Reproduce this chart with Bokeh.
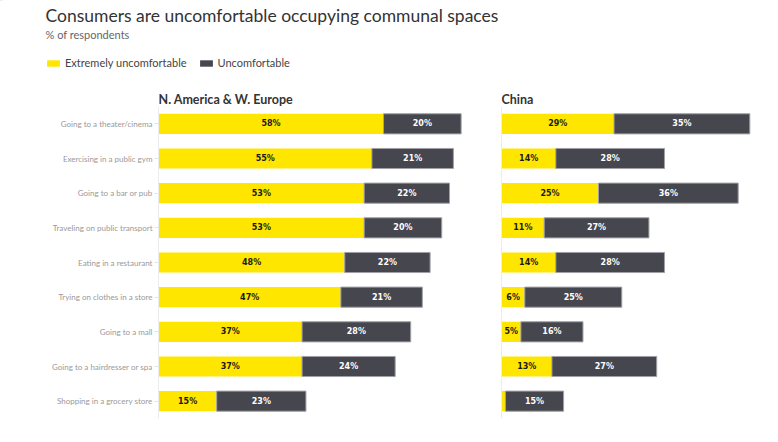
from bokeh.plotting import figure
from bokeh.layouts import column
from bokeh.models import (FactorRange, Range1d, ColumnDataSource, Label, Legend,
                          LegendItem, Span)
from bokeh.core.properties import value
from bokeh.embed import file_html
from bokeh.resources import INLINE

title = "Consumers are uncomfortable occupying communal spaces"
subtitle = "% of respondents"
series_names = ["Extremely uncomfortable", "Uncomfortable"]
panel_names = ["N. America & W. Europe", "China"]
categories = [
    "Going to a theater/cinema",
    "Exercising in a public gym",
    "Going to a bar or pub",
    "Traveling on public transport",
    "Eating in a restaurant",
    "Trying on clothes in a store",
    "Going to a mall",
    "Going to a hairdresser or spa",
    "Shopping in a grocery store",
]
na_extreme = [58, 55, 53, 53, 48, 47, 37, 37, 15]
na_uncomf = [20, 21, 22, 20, 22, 21, 28, 24, 23]
cn_extreme = [29, 14, 25, 11, 14, 6, 5, 13, 1]
cn_uncomf = [35, 28, 36, 27, 28, 25, 16, 27, 15]

YELLOW = "#FFE600"
DARK = "#46464E"
FONT = "Lato"

W = 770
HEAD_H = 106
ML, MR = 158, 2
FW = W - ML - MR
PX_PER_PCT = 3.88
CHINA_OFFSET = 343 / PX_PER_PCT

# ---------- header (title, subtitle, legend, panel headers) ----------
h = figure(width=W, height=HEAD_H, output_backend="svg", toolbar_location=None,
           x_range=Range1d(0, W), y_range=Range1d(HEAD_H, 0),
           min_border=0, min_border_left=0, min_border_right=0,
           min_border_top=0, min_border_bottom=0)
h.frame_align = False
h.axis.visible = False
h.grid.visible = False
h.outline_line_color = None

h.add_layout(Label(x=45, y=15, text=title, text_font=FONT, text_font_size="17.5px",
                   text_color="#333333", text_baseline="middle"))
h.add_layout(Label(x=45, y=34, text=subtitle, text_font=FONT,
                   text_font_size="11px", text_color="#666666",
                   text_baseline="middle"))
h.add_layout(Label(x=ML, y=99, text=panel_names[0], text_font=FONT,
                   text_font_size="12.5px", text_font_style="bold",
                   text_color="#333333", text_baseline="middle"))
h.add_layout(Label(x=ML + CHINA_OFFSET * PX_PER_PCT, y=99, text=panel_names[1],
                   text_font=FONT, text_font_size="12.5px",
                   text_font_style="bold", text_color="#333333",
                   text_baseline="middle"))

# legend keys (kept outside the visible area of the header)
ly = h.hbar(y=[-100], left=[0], right=[1], height=1, fill_color=YELLOW, line_color=None)
ld = h.hbar(y=[-100], left=[0], right=[1], height=1, fill_color=DARK, line_color=None)
legend = Legend(items=[LegendItem(label=series_names[0], renderers=[ly]),
                       LegendItem(label=series_names[1], renderers=[ld])],
                orientation="horizontal", location=(45, HEAD_H - 69),
                padding=0, margin=0, spacing=11, label_standoff=4,
                glyph_width=16, glyph_height=8, label_height=12,
                label_text_font=FONT, label_text_font_size="11px",
                label_text_color="#444444", background_fill_alpha=0,
                border_line_color=None)
h.add_layout(legend)

# ---------- main chart ----------
MAIN_H = 326
p = figure(width=W, height=MAIN_H, output_backend="svg", toolbar_location=None,
           y_range=FactorRange(factors=list(reversed(categories)), range_padding=0),
           x_range=Range1d(0, FW / PX_PER_PCT),
           min_border_left=ML, min_border_right=MR, min_border_top=0,
           min_border_bottom=MAIN_H - 312)
p.frame_align = False
p.extra_x_ranges = {"china": Range1d(-CHINA_OFFSET, FW / PX_PER_PCT - CHINA_OFFSET)}
p.outline_line_color = None
p.grid.visible = False
p.xaxis.visible = False
p.yaxis.axis_line_color = "#ececec"
p.yaxis.major_tick_line_color = "#e4e4e4"
p.yaxis.major_tick_out = 4
p.yaxis.major_tick_in = 0
p.yaxis.minor_tick_line_color = None
p.yaxis.major_label_standoff = 2
p.yaxis.major_label_text_font = FONT
p.yaxis.major_label_text_font_size = "8px"
p.yaxis.major_label_text_color = "#999999"


def pct(v, minimum=2):
    return [f"{x}%" if x >= minimum else "" for x in v]


def panel(ext, unc, range_name):
    s = ColumnDataSource(dict(
        y=categories,
        l0=[0] * len(ext),
        r0=ext,
        r1=[a + b for a, b in zip(ext, unc)],
        m0=[a / 2 for a in ext],
        m1=[a + b / 2 for a, b in zip(ext, unc)],
        t0=pct(ext),
        t1=pct(unc),
    ))
    p.hbar(y="y", left="l0", right="r0", height=0.58, source=s,
           fill_color=YELLOW, line_color=None, x_range_name=range_name)
    p.hbar(y="y", left="r0", right="r1", height=0.58, source=s,
           fill_color=DARK, line_color="#a0a0a6", line_width=1,
           x_range_name=range_name)
    p.text(x="m0", y="y", text="t0", source=s, x_range_name=range_name,
           text_align="center", text_baseline="middle", text_color="#1a1a1a",
           text_font=value("DejaVu Sans"), text_font_style="bold",
           text_font_size="8px")
    p.text(x="m1", y="y", text="t1", source=s, x_range_name=range_name,
           text_align="center", text_baseline="middle", text_color="#ffffff",
           text_font=value("DejaVu Sans"), text_font_style="bold",
           text_font_size="8px")


panel(na_extreme, na_uncomf, "default")
panel(cn_extreme, cn_uncomf, "china")

p.add_layout(Span(location=0, dimension="height", x_range_name="china",
                  line_color="#ececec", line_width=1))

layout = column(h, p, spacing=0)
open("out.html", "w").write(file_html(layout, INLINE))
